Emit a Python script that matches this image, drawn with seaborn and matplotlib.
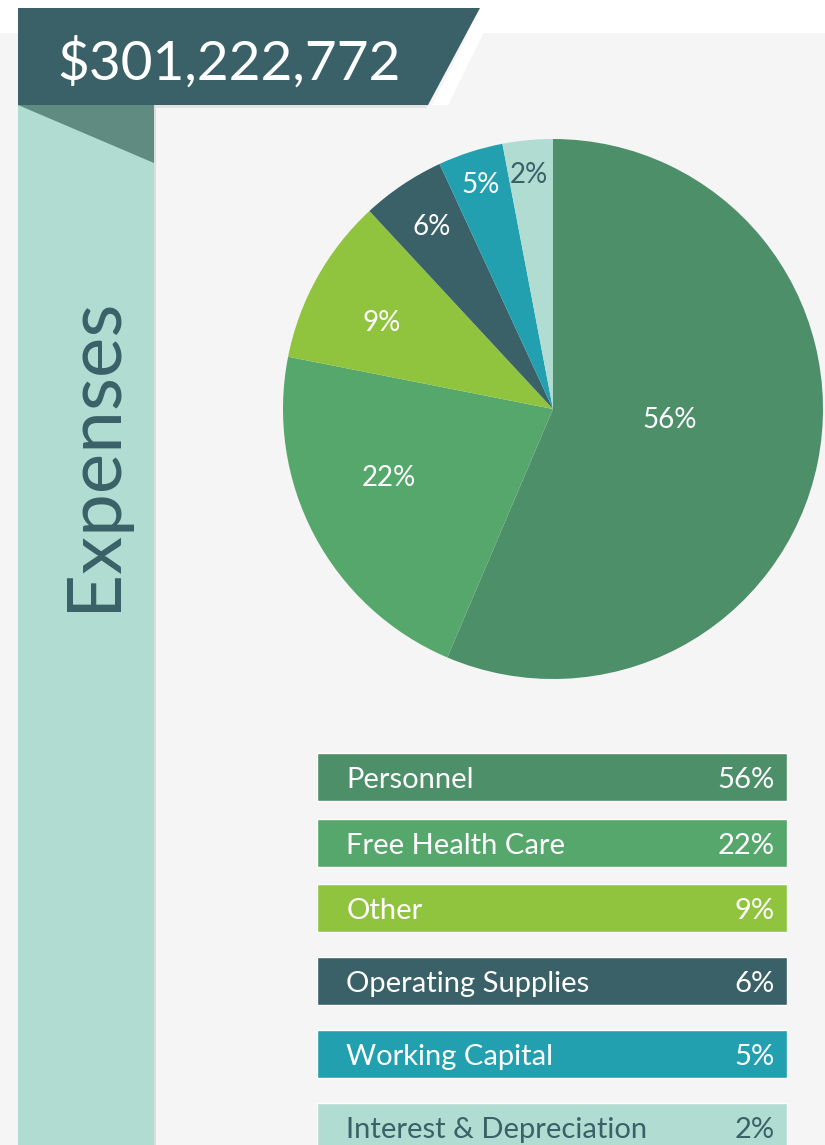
import numpy as np
import matplotlib.pyplot as plt
import seaborn as sns
from matplotlib.patches import Polygon, Rectangle

# data
total_label = "$301,222,772"
section_title = "Expenses"
categories = ["Personnel", "Free Health Care", "Other",
              "Operating Supplies", "Working Capital", "Interest & Depreciation"]
shares = [56, 22, 9, 6, 5, 2]                      # printed percentages
wedge_sizes = [56.4, 21.7, 10.0, 5.0, 3.9, 3.0]    # slice sizes as drawn in the picture
colors = ["#4d8f69", "#55a76c", "#90c43e", "#3a6168", "#22a0b0", "#b0dcd2"]
text_colors = ["white", "white", "white", "white", "white", "#3b6168"]

W, H = 825, 1145
DARK = "#3b6168"

sns.set_theme(style="white")
plt.rcParams["font.family"] = ["Lato", "DejaVu Sans"]

fig = plt.figure(figsize=(W / 100, H / 100), dpi=100)
fig.patch.set_facecolor("white")


def px_axes(left, top, width, height):
    # axes placed in pixel units measured from top-left
    return fig.add_axes([left / W, 1 - (top + height) / H, width / W, height / H])


# background decorations
bg = px_axes(0, 0, W, H)
bg.set_xlim(0, W)
bg.set_ylim(H, 0)
bg.axis("off")
bg.add_patch(Rectangle((0, 33), W, H - 33, color="#f4f5f4", lw=0))
bg.add_patch(Polygon([(482, 8), (496, 8), (448, 105), (432, 105)],
                     closed=True, color="white", lw=0))
bg.add_patch(Polygon([(18, 105), (428, 105), (426, 108), (18, 108)],
                     closed=True, color="#e2e4e3", lw=0))
bg.add_patch(Rectangle((154, 105), 2, H - 105, color="#dcdedd", lw=0))
bg.add_patch(Rectangle((18, 105), 136, H - 105, color="#b0dcd2", lw=0))
bg.add_patch(Polygon([(18, 105), (154, 105), (154, 163)], closed=True,
                     color="#5f8b80", lw=0))
bg.add_patch(Polygon([(18, 8), (480, 8), (428, 105), (18, 105)], closed=True,
                     color=DARK, lw=0))
bg.text(57, 80, total_label, color="white", fontsize=39.5, va="baseline", ha="left")
bg.text(115, 454, section_title, color=DARK, fontsize=55, rotation=90,
        va="baseline", ha="center", rotation_mode="anchor")

# pie
pax = px_axes(283, 139, 540, 540)
wedges, _ = pax.pie(wedge_sizes, colors=colors, startangle=90, counterclock=False,
                    radius=1, wedgeprops=dict(linewidth=0))
pax.set_xlim(-1, 1)
pax.set_ylim(-1, 1)
pax.set_aspect("equal")
pax.axis("off")

label_r = [0.435, 0.66, 0.71, 0.81, 0.87, 0.87]
label_turn = [6, -5, 2.5, 0, 0, 0.5]
for w, s, r, dt, tc in zip(wedges, shares, label_r, label_turn, text_colors):
    ang = np.deg2rad((w.theta1 + w.theta2) / 2 + dt)
    pax.text(r * np.cos(ang), r * np.sin(ang), f"{s}%", color=tc,
             fontsize=20, ha="center", va="center")

# legend rows
row_centers = [777, 843, 908, 981, 1054, 1127]
lax = px_axes(317, 742, 470, 420)
sns.barplot(x=[1] * len(categories), y=row_centers, hue=categories,
            palette=colors, legend=False, width=48 / 65, orient="h",
            native_scale=True, dodge=False, saturation=1, ax=lax)
lax.set_xlim(0, 1)
lax.set_ylim(742 + 420, 742)
lax.axis("off")
for yc, name, s, tc in zip(row_centers, categories, shares, text_colors):
    lax.text(0.062, yc + 11, name, color=tc, fontsize=21, va="baseline", ha="left")
    lax.text(0.974, yc + 11, f"{s}%", color=tc, fontsize=21, va="baseline", ha="right")

fig.savefig("out.png", dpi=100, facecolor=fig.get_facecolor())
